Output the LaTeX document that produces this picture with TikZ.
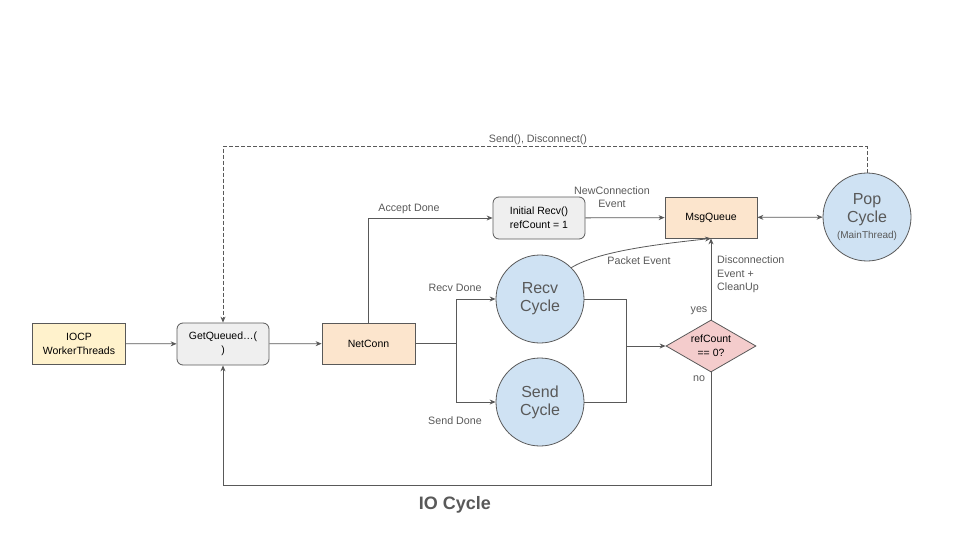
\documentclass[tikz,border=0pt]{standalone}
\usepackage{fontspec}
\setmainfont{Liberation Sans}
\usetikzlibrary{shapes.geometric,arrows.meta}
\definecolor{linec}{HTML}{595959}
\definecolor{textc}{HTML}{595959}
\definecolor{yel}{HTML}{FFF2CC}
\definecolor{org}{HTML}{FCE5CD}
\definecolor{gry}{HTML}{EFEFEF}
\definecolor{blu}{HTML}{CFE2F3}
\definecolor{pnk}{HTML}{F4CCCC}
\begin{document}
\begin{tikzpicture}[x=1pt,y=-1pt,
  box/.style={draw=linec, line width=0.8pt, minimum width=93, minimum height=41, inner sep=1pt, align=center, font=\fontsize{10.5}{14}\selectfont},
  rbox/.style={box, fill=gry, rounded corners=6pt},
  cyc/.style={circle, draw=linec, line width=0.8pt, fill=blu, minimum size=88, inner sep=0pt, align=center, text=textc, font=\fontsize{16}{18}\selectfont},
  arr/.style={draw=linec, line width=0.8pt, -{Stealth[length=6pt,width=5pt]}},
  ln/.style={draw=linec, line width=0.8pt},
  lbl/.style={text=textc, align=center, inner sep=0pt, font=\fontsize{10.7}{13.5}\selectfont}
]
\useasboundingbox (0,0) rectangle (960,540);

\node[box, fill=yel] (iocp) at (79,343.5) {IOCP\\WorkerThreads};
\node[rbox, minimum width=92, minimum height=42] (getq) at (223,344) {GetQueued\ldots(\\)};
\node[box, fill=org] (net) at (368.5,343.5) {NetConn};
\node[rbox, minimum width=92, minimum height=42] (init) at (539,218) {Initial Recv()\\refCount = 1};
\node[box, fill=org, minimum width=92] (msg) at (711,217.5) {MsgQueue};
\node[cyc] (pop) at (867,217) {Pop\\Cycle\\[-2pt]{\fontsize{10}{12}\selectfont (MainThread)}};
\node[cyc] (recv) at (540,299) {Recv\\Cycle};
\node[cyc] (send) at (540,402) {Send\\Cycle};
\node[diamond, draw=linec, line width=0.8pt, fill=pnk, minimum width=90, minimum height=52, inner sep=0pt] (dia) at (711,346) {};
\node[align=center, inner sep=0pt, font=\fontsize{10.5}{14}\selectfont] (diat) at (dia.center) {refCount\\== 0?};

\coordinate (split) at (456,343.5);
\coordinate (join) at (626,346);

\draw[arr] (iocp) -- (getq);
\draw[arr] (getq) -- (net);
\draw[arr] (net.north) |- (init.west);
\draw[arr] (init) -- (msg);
\draw[arr, {Stealth[length=6pt,width=5pt]}-{Stealth[length=6pt,width=5pt]}] (pop) -- (msg);
\draw[ln] (net.east) -- (split);
\draw[arr] (split) |- (recv.west);
\draw[arr] (split) |- (send.west);
\draw[ln] (recv.east) -| (join);
\draw[ln] (send.east) -| (join);
\draw[arr] (join) -- (dia.west);
\draw[arr] (recv.45) .. controls (600,250) and (670,243) .. (msg.south);
\draw[arr] (dia.north) -- (msg.south);
\draw[arr] (dia.south) -- ++(0,113) -| (getq.south);
\draw[arr, dashed, dash pattern=on 4pt off 2pt] (pop.north) -- ++(0,-26) -| (getq.north);

\node[lbl] (l1) at (409,209) {Accept Done};
\node[lbl] (l2) at (612,197) {NewConnection\\Event};
\node[lbl] (l3) at (639,261) {Packet Event};
\node[lbl, anchor=west, align=left] (l4) at (717,274.5) {Disconnection\\Event +\\CleanUp};
\node[lbl] (l5) at (699,311) {yes};
\node[lbl] (l6) at (699,379) {no};
\node[lbl] (l7) at (455,287.5) {Recv Done};
\node[lbl] (l8) at (455,421) {Send Done};
\node[lbl] (l9) at (538,139.5) {Send(), Disconnect()};
\node[text=textc, font=\bfseries\fontsize{18}{20}\selectfont] (title) at (455,505) {IO Cycle};
\end{tikzpicture}
\end{document}
